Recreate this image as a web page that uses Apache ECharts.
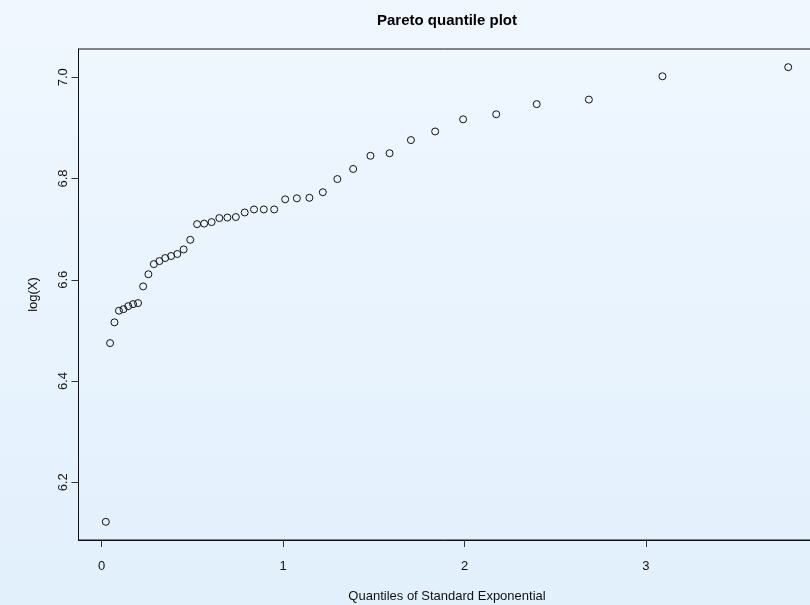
<!DOCTYPE html>
<html>
<head>
<meta charset="utf-8">
<script src="https://cdn.jsdelivr.net/npm/echarts@6/dist/echarts.min.js"></script>
<style>html,body{margin:0;padding:0;overflow:hidden;}#c{width:810px;height:605px;}</style>
</head>
<body>
<div id="c"></div>
<script>
// Theoretical quantiles of the standard exponential
const xQuantiles = [0.0230,0.0465,0.0706,0.0953,0.1206,0.1466,0.1733,0.2007,0.2288,0.2578,0.2877,0.3185,0.3502,0.3830,0.4169,0.4520,0.4884,0.5261,0.5653,0.6061,0.6487,0.6931,0.7397,0.7885,0.8398,0.8938,0.9510,1.0116,1.0761,1.1451,1.2192,1.2993,1.3863,1.4816,1.5870,1.7047,1.8383,1.9924,2.1748,2.3979,2.6856,3.0910,3.7842];
// Observed log(X) values
const logX = [6.122,6.475,6.516,6.539,6.542,6.548,6.552,6.554,6.587,6.611,6.631,6.637,6.643,6.647,6.651,6.660,6.679,6.710,6.711,6.714,6.722,6.723,6.724,6.733,6.739,6.739,6.739,6.759,6.761,6.762,6.773,6.799,6.819,6.845,6.850,6.876,6.893,6.917,6.927,6.947,6.956,7.002,7.020];
const xTicks = [0, 1, 2, 3];
const yTicks = [6.2, 6.4, 6.6, 6.8, 7.0];
const titleText = 'Pareto quantile plot';
const xTitle = 'Quantiles of Standard Exponential';
const yTitle = 'log(X)';

const points = xQuantiles.map((x, i) => [x, logX[i]]);
const font = '"Liberation Sans", Arial, Helvetica, sans-serif';

const chart = echarts.init(document.getElementById('c'), null, {renderer: 'canvas'});
chart.setOption({
  animation: false,
  backgroundColor: {
    type: 'linear', x: 0, y: 0, x2: 0, y2: 1,
    colorStops: [{offset: 0, color: '#f0f7ff'}, {offset: 1, color: '#e2f0fc'}]
  },
  title: {
    text: titleText,
    left: 442,
    top: 8,
    textAlign: 'center',
    textStyle: {fontFamily: font, fontSize: 15, fontWeight: 'bold', color: '#000'}
  },
  grid: {
    left: 78.5, top: 49, width: 737, height: 491,
    outerBoundsMode: 'none',
    containLabel: false,
    show: true, borderColor: '#111', borderWidth: 1, backgroundColor: 'transparent'
  },
  xAxis: {
    type: 'value',
    min: -0.1275, max: 3.9346,
    name: xTitle,
    nameLocation: 'middle',
    nameGap: 50,
    nameTextStyle: {fontFamily: font, fontSize: 13, color: '#111'},
    splitLine: {show: false},
    axisLine: {show: true, onZero: false, lineStyle: {color: '#111', width: 1}},
    axisTick: {show: true, inside: false, length: 7, customValues: xTicks, lineStyle: {color: '#333'}},
    axisLabel: {show: true, margin: 20, customValues: xTicks, fontFamily: font, fontSize: 13, color: '#111',
      formatter: v => String(v)}
  },
  yAxis: {
    type: 'value',
    min: 6.0861, max: 7.0559,
    name: yTitle,
    nameLocation: 'middle',
    nameGap: 39,
    nameRotate: 90,
    nameTextStyle: {fontFamily: font, fontSize: 13, color: '#111'},
    splitLine: {show: false},
    axisLine: {show: true, onZero: false, lineStyle: {color: '#111', width: 1}},
    axisTick: {show: true, inside: false, length: 7, customValues: yTicks, lineStyle: {color: '#333'}},
    axisLabel: {show: true, margin: 9, rotate: 90, customValues: yTicks, fontFamily: font, fontSize: 13, color: '#111',
      formatter: v => v.toFixed(1)}
  },
  series: [{
    type: 'scatter',
    data: points,
    symbol: 'circle',
    symbolSize: 7,
    itemStyle: {color: 'rgba(0,0,0,0)', borderColor: '#111', borderWidth: 1, opacity: 1},
    emphasis: {disabled: true}
  }]
});
</script>
</body>
</html>
